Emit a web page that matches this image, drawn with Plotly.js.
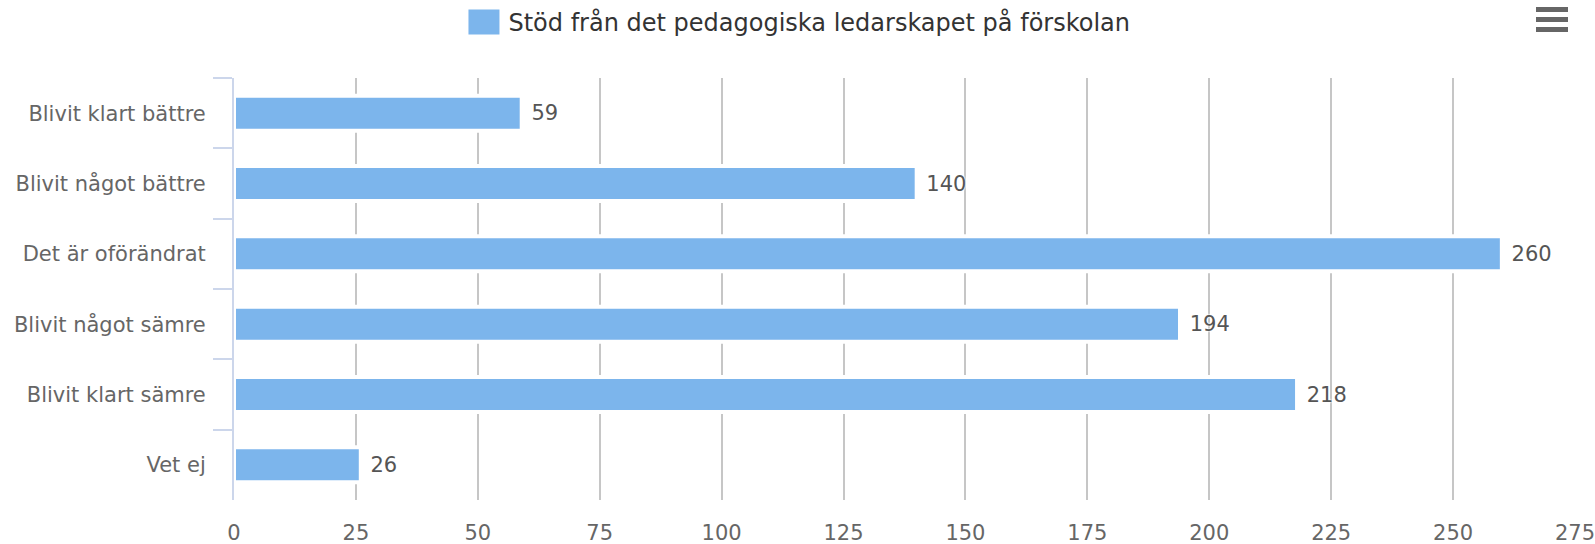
<!DOCTYPE html>
<html>
<head>
<meta charset="utf-8">
<script src="https://cdn.plot.ly/plotly-3.0.1.min.js"></script>
<style>
  html, body { margin: 0; padding: 0; background: #ffffff; }
  #chart { width: 1595px; height: 544px; }
</style>
</head>
<body>
<div id="chart"></div>
<script>
const categories = [
  "Blivit klart bättre",
  "Blivit något bättre",
  "Det är oförändrat",
  "Blivit något sämre",
  "Blivit klart sämre",
  "Vet ej"
];
const values = [59, 140, 260, 194, 218, 26];
const seriesName = "Stöd från det pedagogiska ledarskapet på förskolan";
const xTickValues = [0, 25, 50, 75, 100, 125, 150, 175, 200, 225, 250, 275];

const FONT = "DejaVu Sans, Verdana, sans-serif";

const trace = {
  type: "bar",
  orientation: "h",
  name: seriesName,
  y: categories,
  x: values,
  text: values.map(v => String(v)),
  texttemplate: "\u00a0%{text}",
  textposition: "outside",
  cliponaxis: false,
  textfont: { family: FONT, size: 21, color: "#555555",
              shadow: "0px 0px 2px #ffffff, 0px 0px 2px #ffffff, 0px 0px 2px #ffffff" },
  marker: { color: "#7cb5ec", line: { color: "#ffffff", width: 4 } },
  hoverinfo: "x+y",
  showlegend: true
};

const layout = {
  width: 1595,
  height: 544,
  margin: { l: 234, r: 20, t: 78, b: 44, pad: 0 },
  paper_bgcolor: "#ffffff",
  plot_bgcolor: "#ffffff",
  font: { family: FONT, color: "#666666", size: 21 },
  bargap: 0.502,
  showlegend: true,
  legend: {
    orientation: "h",
    xref: "container",
    yref: "container",
    x: 0.5028,
    xanchor: "center",
    y: 1,
    yanchor: "top",
    font: { family: FONT, size: 24, color: "#333333" },
    bgcolor: "rgba(0,0,0,0)"
  },
  xaxis: {
    range: [0, 275],
    tickmode: "array",
    tickvals: xTickValues,
    ticktext: xTickValues.map(String),
    showgrid: true,
    gridcolor: "#c6c6c6",
    gridwidth: 2,
    zeroline: false,
    showline: false,
    ticks: "",
    ticklabelstandoff: 18,
    ticklabeloverflow: "allow",
    tickfont: { family: FONT, size: 21, color: "#666666" },
    fixedrange: true
  },
  yaxis: {
    type: "category",
    categoryorder: "array",
    categoryarray: categories,
    range: [5.5, -0.5],
    showgrid: false,
    zeroline: false,
    showline: true,
    linecolor: "#ccd6eb",
    linewidth: 2,
    ticks: "outside",
    tickson: "boundaries",
    ticklen: 19,
    tickwidth: 2,
    tickcolor: "#ccd6eb",
    ticklabelstandoff: 22,
    tickfont: { family: FONT, size: 21, color: "#666666" },
    fixedrange: true
  },
  shapes: [
    { type: "line", xref: "paper", yref: "paper", x0: 0.97092, x1: 0.99478, y0: 1.1623, y1: 1.1623, line: { color: "#666666", width: 5 } },
    { type: "line", xref: "paper", yref: "paper", x0: 0.97092, x1: 0.99478, y0: 1.1386, y1: 1.1386, line: { color: "#666666", width: 5 } },
    { type: "line", xref: "paper", yref: "paper", x0: 0.97092, x1: 0.99478, y0: 1.1149, y1: 1.1149, line: { color: "#666666", width: 5 } }
  ]
};

Plotly.newPlot("chart", [trace], layout, { displayModeBar: false, responsive: false }).then(function (gd) {
  // enlarge the legend's bar symbol to match the reference's wide swatch
  gd.querySelectorAll(".legend .legendpoints path").forEach(function (p) {
    p.setAttribute("transform", "translate(14.5,0) scale(2.75,2.08)");
    p.style.strokeWidth = "0px";
  });
});
</script>
</body>
</html>
